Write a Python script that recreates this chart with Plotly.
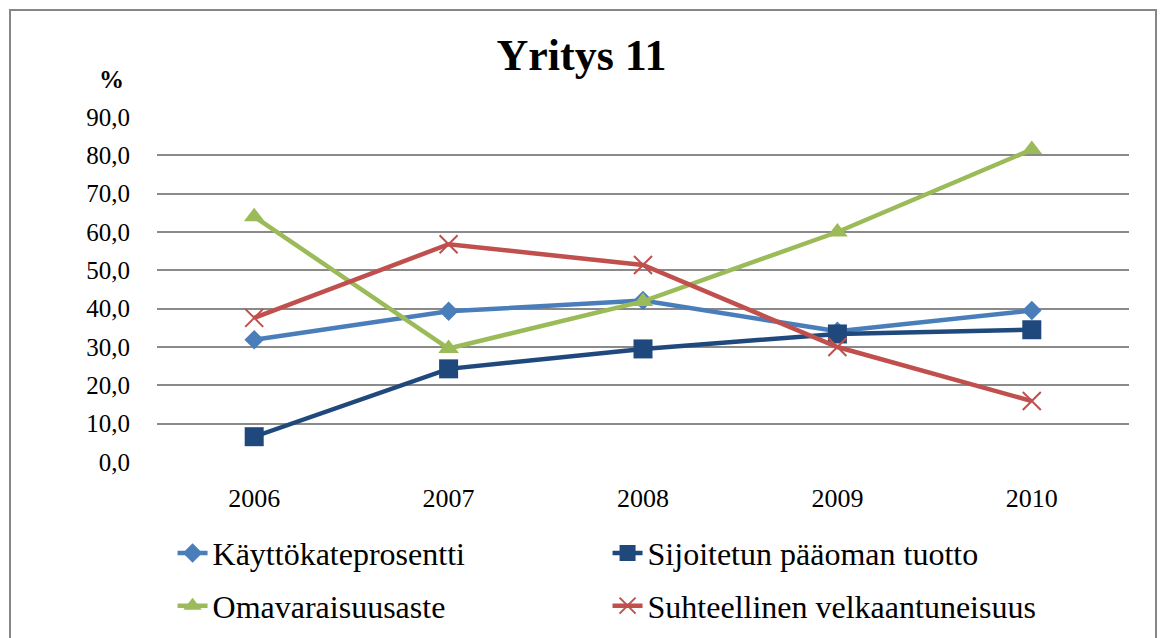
import plotly.graph_objects as go

years = ["2006", "2007", "2008", "2009", "2010"]
kayttokate = [31.9, 39.3, 42.1, 34.1, 39.5]
sijoitetun = [6.6, 24.3, 29.5, 33.4, 34.5]
omavaraisuus = [64.0, 29.6, 41.9, 60.0, 81.5]
velkaantuneisuus = [37.6, 56.8, 51.4, 30.0, 15.9]
yticks = [0, 10, 20, 30, 40, 50, 60, 70, 80, 90]

FONT = "Times New Roman, Liberation Serif, serif"

fig = go.Figure()
fig.add_trace(go.Scatter(x=years, y=kayttokate, name="Käyttökateprosentti", mode="lines+markers",
                         line=dict(color="#4A7EBB", width=4.5),
                         marker=dict(symbol="diamond", size=15, color="#4A7EBB"), legend="legend"))
fig.add_trace(go.Scatter(x=years, y=sijoitetun, name="Sijoitetun pääoman tuotto", mode="lines+markers",
                         line=dict(color="#1F497D", width=4.5),
                         marker=dict(symbol="square", size=19, color="#1F497D"), legend="legend"))
fig.add_trace(go.Scatter(x=years, y=omavaraisuus, name="Omavaraisuusaste", mode="lines+markers",
                         line=dict(color="#9BBB59", width=4.5),
                         marker=dict(symbol="triangle-up", size=18, color="#9BBB59"), legend="legend2"))
fig.add_trace(go.Scatter(x=years, y=velkaantuneisuus, name="Suhteellinen velkaantuneisuus", mode="lines+markers",
                         line=dict(color="#C0504D", width=4.5),
                         marker=dict(symbol="x-thin", size=18, color="#C0504D",
                                     line=dict(color="#C0504D", width=2)), legend="legend2"))

legend_common = dict(orientation="h", xanchor="left", yanchor="middle",
                     entrywidth=390, entrywidthmode="pixels",
                     font=dict(family=FONT, size=32, color="black"),
                     bgcolor="rgba(0,0,0,0)")

fig.update_layout(
    width=1163, height=638,
    margin=dict(l=157, r=34, t=117, b=176, autoexpand=False),
    paper_bgcolor="white", plot_bgcolor="white",
    separators=", ",
    title=dict(text="<b>Yritys 11</b>", x=0.5, xanchor="center", y=1 - 55 / 638, yanchor="middle",
               font=dict(family=FONT, size=44, color="black")),
    font=dict(family=FONT, color="black"),
    legend=dict(x=0.016, y=-0.264, **legend_common),
    legend2=dict(x=0.016, y=-0.417, **legend_common),
    xaxis=dict(type="category", range=[-0.5, 4.5], showgrid=False, showline=False, zeroline=False,
               ticks="", tickfont=dict(family=FONT, size=26, color="black"), ticklabelstandoff=18),
    yaxis=dict(range=[0, 90], tickvals=yticks, tickformat=".1f", showgrid=True,
               gridcolor="#8A8A8A", gridwidth=2, zeroline=False, showline=False, ticks="",
               tickfont=dict(family=FONT, size=25, color="black"), ticklabelstandoff=26),
    annotations=[dict(text="<b>%</b>", x=(111 - 157) / 972, y=(462 - 79) / 345, xref="paper", yref="paper",
                      xanchor="center", yanchor="middle",
                      showarrow=False, font=dict(family=FONT, size=25, color="black"))],
    shapes=[dict(type="rect", xref="paper", yref="paper",
                 x0=(10 - 157) / 972, x1=(1156 - 157) / 972, y0=(462 - 700) / 345, y1=(462 - 10) / 345,
                 line=dict(color="#868686", width=2), fillcolor="rgba(0,0,0,0)", layer="below")],
)

fig.write_html("out.html", config={"displayModeBar": False},
               post_script="document.body.style.margin='0';")
